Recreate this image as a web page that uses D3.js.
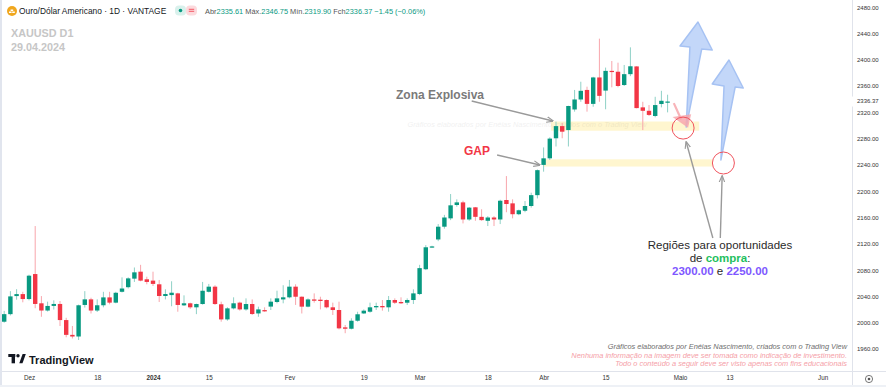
<!DOCTYPE html>
<html>
<head>
<meta charset="utf-8">
<script src="https://cdn.jsdelivr.net/npm/d3@7"></script>
<style>
body{margin:0;background:#fff}
svg{display:block;font-family:"Liberation Sans",Arial,sans-serif}
</style>
</head>
<body>
<svg id="chart" width="886" height="387"></svg>
<script>
// XAUUSD daily candles, first bar 27 Nov 2023, last bar 29 Apr 2024
var startDate = "2023-11-27";
var endDate = "2024-06-07";
var holidays = ["2023-12-25", "2024-01-01", "2024-03-29"];

var opens = [2001.5,2013,2040.5,2043.5,2036,2074,2029.5,2018.5,2025.5,2028.5,2004,1981.5,1979,2027,2035.5,2018.5,2026.5,2038.5,2030.5,2047,
  2054,2067,2077.6,2066,2064,2058.4,2040.6,2042,2044.6,2026.4,2029.5,2023.4,2028.4,2047,2054.8,2028,2005,2021.8,2030.5,2020.2,
  2028.4,2014.1,2019.2,2024.5,2031.5,2035.4,2038.6,2054.8,2039.5,2024.4,2035.4,2035,2034.5,2023.4,2019.3,1992.9,1990.8,2003,2014.1,2016.7,
  2023.4,2025.4,2023.4,2034.5,2031.5,2030.4,2034.5,2043.6,2081.3,2114.7,2126.6,2146,2158.7,2179,2183,2157,2175.5,2161,2155,2160,
  2157,2186.6,2181.5,2165,2170.3,2177.5,2194,2240,2250,2280.5,2299,2293,2324.3,2339.5,2354,2332.8,2373,2353,2383,2381.7,
  2361.5,2378,2389.8,2327.5,2322.3,2314.4,2332.6,2335.61];
var highs = [2018,2048,2051,2047,2073,2147,2040.5,2032,2034,2033,2007.5,1995,2027.5,2048,2038,2035.5,2047,2047,2047,2069,
  2069,2084,2088,2070,2077.6,2065,2050.8,2063,2045.5,2041.6,2030.5,2029,2062,2059,2057,2032,2023.5,2038.6,2032,2037,
  2035.4,2024.4,2023.4,2037,2048.7,2057,2065,2058.4,2040,2037,2044.6,2039.5,2035.4,2030.5,2032,1996.5,2006.7,2016.7,2020.2,2030.5,
  2030.5,2034.5,2040.6,2037,2038.6,2037,2050.8,2088,2118,2117,2150,2164,2195.7,2187.6,2185.5,2176,2176,2172.5,2162,2162,
  2187,2223,2187.6,2172,2185,2197.7,2233,2266.6,2282,2305.7,2304,2330,2354,2366.5,2359,2374,2432,2388,2398,2395.5,
  2392,2418.8,2390,2336,2331,2343.6,2352.7,2346.75];
var lows = [2000,2011,2035,2031,2034,2022,2009,2017,2020,1995,1977.8,1976,1973.7,2023,2014,2016.3,2023.4,2028,2029.5,2046,
  2052,2062,2063,2058.4,2055.8,2031.5,2035.4,2025,2016.7,2025.4,2021,2013,2027.5,2046,2027,2001.5,2003,2020.2,2018.3,2018.3,
  2011.7,2009,2016.7,2019.3,2029.5,2029.5,2037,2027,2014,2023.4,2030.5,2020.2,2021.8,2011.7,1989.8,1984,1989.8,2001.5,2013.2,2015.2,
  2019.3,2018.3,2016.7,2028.4,2028.4,2027,2028.4,2042,2080,2114,2124,2143,2156,2176.4,2151,2155,2155,2155,2147,2147,
  2150,2168,2158.7,2163.5,2168,2175,2189,2229.7,2247.5,2268,2280.5,2268,2321,2336,2321,2328.4,2336,2324.6,2358,2358,
  2360,2375,2326,2293,2314.4,2312.4,2327.5,2319.9];
var closes = [2013,2040,2043.5,2036,2071.5,2028.5,2018.5,2025.5,2028.5,2004,1981.5,1979,2026.5,2035.5,2018.5,2026.5,2038.5,2030.5,2045.5,2052,
  2067.4,2076.6,2064,2062,2059,2040.6,2043.6,2045.6,2027,2029.5,2023.4,2028.4,2048.6,2054.8,2028.4,2005,2021.8,2029.5,2020.2,2028.4,
  2013.2,2020.2,2017.2,2032,2037,2038.6,2054.8,2039.5,2024.4,2035.4,2033.4,2033,2023.4,2019.3,1991.4,1990.8,2003,2012.8,2018.3,2023.4,
  2025.4,2023.4,2034.5,2030.4,2029.5,2034.5,2044.6,2083,2114.7,2116,2146,2160,2178.5,2183,2157,2175,2161,2156,2160,2157,
  2185.5,2180.5,2165,2171,2177.5,2194,2232,2250,2280,2299,2290.5,2329.6,2339.5,2352.7,2332.8,2373,2345,2383,2381.5,2360,
  2378,2390,2326.4,2322.3,2316,2331,2337.5,2336.37];

var priceTicks = [1960,2000,2040,2080,2120,2160,2200,2240,2280,2320,2360,2400,2440,2480];
var dateTicks = ["2023-12-01","2023-12-18","2024-01-02","2024-01-15","2024-02-01","2024-02-19","2024-03-01","2024-03-18","2024-04-01","2024-04-15","2024-05-01","2024-05-13","2024-06-03"];
var dateTickLabels = ["Dez","18","2024","15","Fev","19","Mar","18","Abr","15","Maio","13","Jun"];
var lastPrice = 2336.37;

// trading calendar (weekdays without the broker holidays)
function tradingDays(from, to, skip) {
  var out = [];
  var d = new Date(from + "T00:00:00Z"), end = new Date(to + "T00:00:00Z");
  while (d <= end) {
    var s = d.toISOString().slice(0, 10);
    var wd = d.getUTCDay();
    if (wd !== 0 && wd !== 6 && skip.indexOf(s) < 0) out.push(s);
    d.setUTCDate(d.getUTCDate() + 1);
  }
  return out;
}
var days = tradingDays(startDate, endDate, holidays);

var svg = d3.select("#chart");
var W = 886, H = 387, plotRight = 852, plotBottom = 371;

var x = d3.scaleLinear().domain([0, 100]).range([4.2, 624.2]);
var y = d3.scaleLinear().domain([1960, 2480]).range([349, 7.1]);

var candles = opens.map(function(o, i) {
  return {date: days[i], i: i, o: o, h: highs[i], l: lows[i], c: closes[i]};
});

svg.append("rect").attr("width", W).attr("height", H).attr("fill", "#fff");

var defs = svg.append("defs");
defs.append("clipPath").attr("id", "plotclip").append("rect")
  .attr("x", 0).attr("y", 0).attr("width", plotRight).attr("height", plotBottom);
defs.append("marker").attr("id", "grayhead").attr("viewBox", "0 0 10 10")
  .attr("refX", 9).attr("refY", 5).attr("markerWidth", 5).attr("markerHeight", 5)
  .attr("orient", "auto").append("path").attr("d", "M0,1 L10,5 L0,9").attr("fill", "none")
  .attr("stroke", "#9a9a9a").attr("stroke-width", 1.6);

var plot = svg.append("g").attr("clip-path", "url(#plotclip)");

// highlighted zones
var zones = [
  {i0: 88.2, i1: 112.1, p0: 2292, p1: 2306},
  {i0: 86.9, i1: 114.2, p0: 2237.5, p1: 2248.5}
];
plot.selectAll(".zone").data(zones).enter().append("rect")
  .attr("x", function(d) { return x(d.i0); })
  .attr("width", function(d) { return x(d.i1) - x(d.i0); })
  .attr("y", function(d) { return y(d.p1); })
  .attr("height", function(d) { return y(d.p0) - y(d.p1); })
  .attr("fill", "#fff6cf");

// faint watermark inside the chart
plot.append("text").attr("x", x(106.0) - 254).attr("y", y(2297))
  .attr("font-size", 7.4).attr("font-style", "italic").attr("fill", "#000").attr("opacity", 0.06)
  .text("Gráficos elaborados por Enéias Nascimento, criados com o Trading View");

// candles
var upBody = "#089981", downBody = "#f23645", upWick = "#8fd1c6", downWick = "#f8a5ac";
var cg = plot.selectAll(".candle").data(candles).enter().append("g").attr("class", "candle");
cg.append("line")
  .attr("x1", function(d) { return x(d.i); }).attr("x2", function(d) { return x(d.i); })
  .attr("y1", function(d) { return y(d.h); }).attr("y2", function(d) { return y(d.l); })
  .attr("stroke", function(d) { return d.c >= d.o ? upWick : downWick; }).attr("stroke-width", 1);
cg.append("rect")
  .attr("x", function(d) { return x(d.i) - 2.2; }).attr("width", 4.4)
  .attr("y", function(d) { return y(Math.max(d.o, d.c)); })
  .attr("height", function(d) { return Math.max(1.2, Math.abs(y(d.o) - y(d.c))); })
  .attr("fill", function(d) { return d.c >= d.o ? upBody : downBody; });

// annotations
var ann = svg.append("g");
function pt(p) { return x(p[0]) + "," + y(p[1]); }

var blueArrows = [
  [[110.0,2297.6],[110.6,2419.3],[109.0,2420.8],[111.9,2457.3],[114.2,2414.8],[112.5,2416.3]],
  [[115.6,2247.5],[116.1,2360],[114.2,2363],[116.9,2399.5],[119.2,2357],[117.9,2358.5]]
];
ann.selectAll(".barrow").data(blueArrows).enter().append("polygon")
  .attr("points", function(d) { return d.map(pt).join(" "); })
  .attr("fill", "#c3d7f9").attr("stroke", "#a6c2f3").attr("stroke-width", 1.5).attr("stroke-linejoin", "round");

// small pink arrow pointing into the first circle
ann.append("line")
  .attr("x1", x(108.0)).attr("y1", y(2334)).attr("x2", x(109.2)).attr("y2", y(2309))
  .attr("stroke", "#f7a7ad").attr("stroke-width", 2.2).attr("opacity", 0.85);
ann.append("polygon")
  .attr("points", [[107.8,2313],[110.8,2317],[110.3,2296.5]].map(pt).join(" "))
  .attr("fill", "#f7a7ad").attr("opacity", 0.85);

var circles = [{i: 109.5, p: 2296}, {i: 116.0, p: 2242.9}];
ann.selectAll(".ring").data(circles).enter().append("circle")
  .attr("cx", function(d) { return x(d.i); }).attr("cy", function(d) { return y(d.p); }).attr("r", 11)
  .attr("fill", "none").attr("stroke", "#f0525c").attr("stroke-width", 1);

var grayArrows = [
  [[75.4,2337.2],[88.5,2306.8]],
  [[79.5,2255],[86.4,2239.8]],
  [[114.3,2128.8],[110.0,2274.8]],
  [[115.5,2128.8],[115.8,2223]]
];
ann.selectAll(".garrow").data(grayArrows).enter().append("line")
  .attr("x1", function(d) { return x(d[0][0]); }).attr("y1", function(d) { return y(d[0][1]); })
  .attr("x2", function(d) { return x(d[1][0]); }).attr("y2", function(d) { return y(d[1][1]); })
  .attr("stroke", "#9a9a9a").attr("stroke-width", 1.4).attr("marker-end", "url(#grayhead)");

ann.append("text").attr("x", 396).attr("y", 99).attr("font-size", 12).attr("font-weight", "bold")
  .attr("fill", "#7a7a7a").text("Zona Explosiva");
ann.append("text").attr("x", 464).attr("y", 155).attr("font-size", 12).attr("font-weight", "bold")
  .attr("fill", "#f23645").text("GAP");

var note = ann.append("g").attr("font-size", 11.5).attr("fill", "#2a2a2a").attr("text-anchor", "middle");
note.append("text").attr("x", 720).attr("y", 249).text("Regiões para oportunidades");
var l2 = note.append("text").attr("x", 720).attr("y", 262);
l2.append("tspan").text("de ");
l2.append("tspan").attr("font-weight", "bold").attr("fill", "#1fbf5f").text("compra");
l2.append("tspan").text(":");
var l3 = note.append("text").attr("x", 720).attr("y", 275);
l3.append("tspan").attr("font-weight", "bold").attr("fill", "#7e57ff").text("2300.00");
l3.append("tspan").text(" e ");
l3.append("tspan").attr("font-weight", "bold").attr("fill", "#7e57ff").text("2250.00");

// axes
svg.append("line").attr("x1", plotRight + 0.5).attr("x2", plotRight + 0.5).attr("y1", 0).attr("y2", H)
  .attr("stroke", "#e0e3eb");
svg.append("line").attr("x1", 0).attr("x2", W).attr("y1", plotBottom + 0.5).attr("y2", plotBottom + 0.5)
  .attr("stroke", "#e0e3eb");

var yAxis = svg.append("g").attr("transform", "translate(" + plotRight + ",0)")
  .call(d3.axisRight(y).tickValues(priceTicks).tickFormat(d3.format(".2f")).tickSize(0).tickPadding(5));
yAxis.select(".domain").remove();
yAxis.selectAll("text").attr("font-size", 6).attr("fill", "#333").attr("font-family", "Liberation Sans, Arial, sans-serif");

svg.append("rect").attr("x", plotRight - 1).attr("y", y(lastPrice) - 5).attr("width", W - plotRight + 1).attr("height", 10)
  .attr("fill", "#fff");
svg.append("text").attr("x", plotRight + 5).attr("y", y(lastPrice)).attr("dy", "0.32em")
  .attr("font-size", 6).attr("fill", "#333").text(d3.format(".2f")(lastPrice));

var xAxis = svg.append("g").attr("transform", "translate(0," + plotBottom + ")")
  .call(d3.axisBottom(x).tickValues(dateTicks.map(function(d) { return days.indexOf(d); }))
    .tickFormat(function(d, k) { return dateTickLabels[k]; }).tickSize(0).tickPadding(5));
xAxis.select(".domain").remove();
xAxis.selectAll("text").attr("font-size", 6.3).attr("fill", "#333").attr("font-family", "Liberation Sans, Arial, sans-serif")
  .attr("font-weight", function(d, k) { return dateTickLabels[k] === "2024" ? "bold" : "normal"; });

// settings icon in the corner
svg.append("circle").attr("cx", 869).attr("cy", 379).attr("r", 3.6).attr("fill", "none").attr("stroke", "#555").attr("stroke-width", 0.8);
svg.append("circle").attr("cx", 869).attr("cy", 379).attr("r", 1.3).attr("fill", "#555");

// frame
svg.append("rect").attr("x", 0).attr("y", 0).attr("width", 2).attr("height", H).attr("fill", "#e1e5ee");
svg.append("rect").attr("x", 0).attr("y", H - 2).attr("width", W).attr("height", 2).attr("fill", "#eef1f6");

// header
svg.append("circle").attr("cx", 12).attr("cy", 11).attr("r", 5).attr("fill", "#f0a71e");
svg.append("path").attr("d", "M9,13 h2.6 v-1.6 h-2.6z M12.2,13 h2.6 v-1.6 h-2.6z M10.6,11 h2.6 v-1.6 h-2.6z").attr("fill", "#fff");
svg.append("text").attr("x", 19).attr("y", 14).attr("font-size", 8.4).attr("fill", "#131722")
  .text("Ouro/Dólar Americano · 1D · VANTAGE");
svg.append("rect").attr("x", 175).attr("y", 5.5).attr("width", 11).attr("height", 10).attr("rx", 4).attr("fill", "#d9f1ec");
svg.append("circle").attr("cx", 180.5).attr("cy", 10.5).attr("r", 1.8).attr("fill", "#089981");
svg.append("rect").attr("x", 186).attr("y", 5.5).attr("width", 11).attr("height", 10).attr("rx", 4).attr("fill", "#fcdadd");
svg.append("path").attr("d", "M188.8,9.3 h5.4 M188.8,11.3 h5.4").attr("stroke", "#f23645").attr("stroke-width", 0.8);

var ohlc = svg.append("text").attr("x", 205).attr("y", 13.5).attr("font-size", 7.4);
[["Abr", "2335.61"], [" Máx.", "2346.75"], [" Mín.", "2319.90"], [" Fch", "2336.37"]].forEach(function(p) {
  ohlc.append("tspan").attr("fill", "#555").text(p[0]);
  ohlc.append("tspan").attr("fill", "#089981").text(p[1]);
});
ohlc.append("tspan").attr("fill", "#089981").text(" −1.45 (−0.06%)");

svg.append("text").attr("x", 11).attr("y", 37).attr("font-size", 10.8).attr("font-weight", "bold")
  .attr("fill", "#c6c6c6").text("XAUUSD D1");
svg.append("text").attr("x", 11).attr("y", 51).attr("font-size", 10.8).attr("font-weight", "bold")
  .attr("fill", "#c6c6c6").text("29.04.2024");

// credits
var cred = svg.append("g").attr("text-anchor", "end").attr("font-size", 7.4).attr("font-style", "italic");
cred.append("text").attr("x", 847).attr("y", 349).attr("fill", "#6e6e6e")
  .text("Gráficos elaborados por Enéias Nascimento, criados com o Trading View");
cred.append("text").attr("x", 847).attr("y", 357.5).attr("fill", "#f5a0a7")
  .text("Nenhuma informação na imagem deve ser tomada como indicação de investimento.");
cred.append("text").attr("x", 847).attr("y", 365.5).attr("fill", "#f5a0a7")
  .text("Todo o conteúdo a seguir deve ser visto apenas com fins educacionais");

// TradingView logo
var logo = svg.append("g").attr("fill", "#131722");
logo.append("rect").attr("x", 8.3).attr("y", 354).attr("width", 7).attr("height", 3);
logo.append("rect").attr("x", 11.6).attr("y", 354).attr("width", 3.4).attr("height", 9.3);
logo.append("circle").attr("cx", 18).attr("cy", 355.8).attr("r", 1.7);
logo.append("polygon").attr("points", "19.3,363.3 22.6,354 25.8,354 22.5,363.3");
logo.append("text").attr("x", 29).attr("y", 363.5).attr("font-size", 11).attr("font-weight", "bold").text("TradingView");
</script>
</body>
</html>
